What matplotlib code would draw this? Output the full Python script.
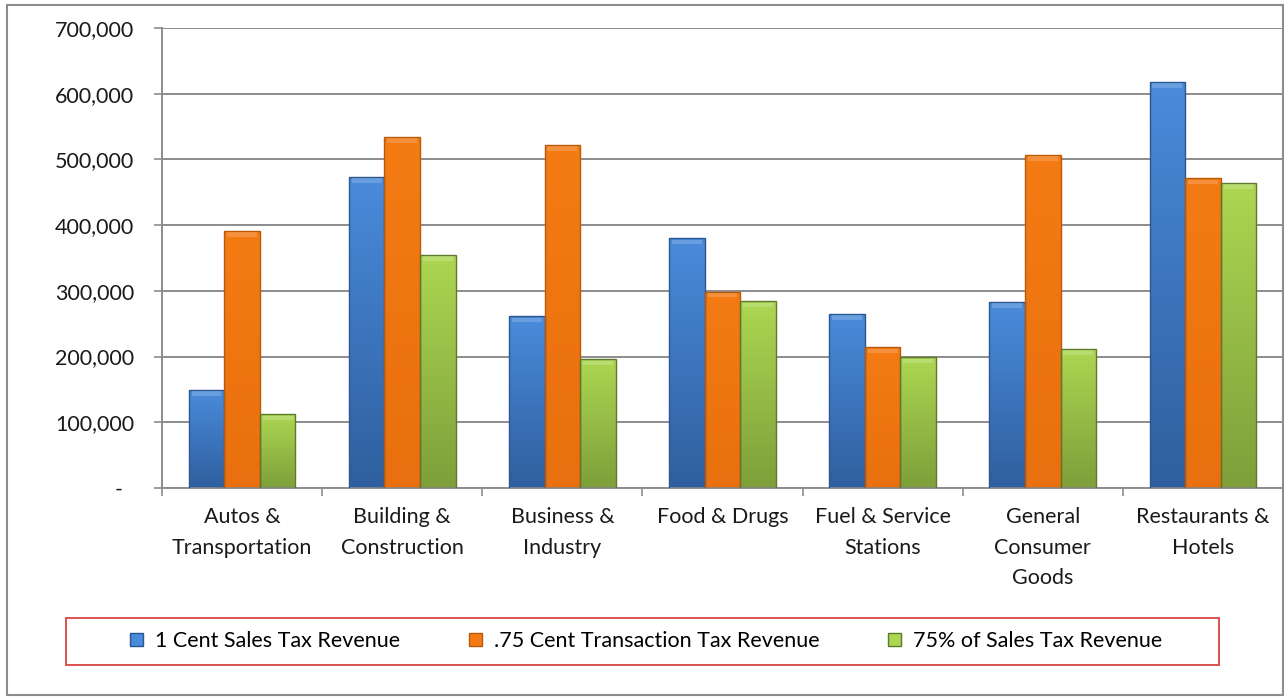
import numpy as np
import matplotlib.pyplot as plt
from matplotlib.patches import Rectangle, Patch
from matplotlib.colors import LinearSegmentedColormap
from matplotlib.ticker import FuncFormatter

plt.rcParams['font.family'] = ['Lato', 'DejaVu Sans']

categories = ["Autos &\nTransportation", "Building &\nConstruction", "Business &\nIndustry",
              "Food & Drugs", "Fuel & Service\nStations", "General\nConsumer\nGoods",
              "Restaurants &\nHotels"]
series_names = ["1 Cent Sales Tax Revenue", ".75 Cent Transaction Tax Revenue",
                "75% of Sales Tax Revenue"]
one_cent = [149000, 473000, 261000, 380000, 265000, 283000, 618000]
transaction = [391000, 534000, 522000, 299000, 214000, 507000, 471000]
pct75 = [112000, 355000, 196000, 284000, 199000, 212000, 464000]

# (top colour, bottom colour, edge colour)
styles = [("#4a8bdb", "#2f5f9e", "#2b5690"),
          ("#f47b14", "#ea6f0e", "#b9590a"),
          ("#acd752", "#7e9f3a", "#5d7a2b")]

fig = plt.figure(figsize=(12.84, 6.98), dpi=100)
ax = fig.add_axes([162 / 1284, 1 - 488 / 698, 1121 / 1284, 460 / 698])

x = np.arange(len(categories))
width = 0.222
grad = np.linspace(0, 1, 256).reshape(-1, 1)
for i, (vals, (top, bot, edge)) in enumerate(zip([one_cent, transaction, pct75], styles)):
    cmap = LinearSegmentedColormap.from_list("g%d" % i, [top, bot])
    bars = ax.bar(x + (i - 1) * width, vals, width, facecolor="none", edgecolor=edge,
                  linewidth=1.0, zorder=3)
    for b in bars:
        x0, w, h = b.get_x(), b.get_width(), b.get_height()
        im = ax.imshow(grad, cmap=cmap, extent=[x0, x0 + w, 0, h], aspect="auto",
                       origin="upper", zorder=2.5, interpolation="bilinear")
        im.set_clip_path(b)
        # light bevel strip along the top
        ax.add_patch(Rectangle((x0 + w * 0.08, h - 9000), w * 0.84, 7000,
                               facecolor="white", alpha=0.18, linewidth=0, zorder=3.2))

ax.set_xlim(-0.5, len(categories) - 0.5)
ax.set_ylim(0, 700000)
ax.set_yticks(np.arange(0, 700001, 100000))
ax.yaxis.set_major_formatter(FuncFormatter(lambda v, p: "-  " if v == 0 else f"{int(v):,}"))
ax.grid(axis="y", color="#8c8c8c", linewidth=1.4, zorder=1)
ax.set_axisbelow(True)

ax.set_xticks(x)
ax.set_xticklabels(categories, linespacing=1.65)
ax.set_xticks(np.arange(-0.5, len(categories)), minor=True)
ax.tick_params(axis="x", which="major", length=0, pad=14, labelsize=15.5, colors="#1a1a1a")
ax.tick_params(axis="x", which="minor", length=6, width=1.2, color="#8c8c8c", direction="out")
ax.tick_params(axis="y", length=6, width=1.2, color="#8c8c8c", pad=14, labelsize=15.5,
               labelcolor="#1a1a1a")

for s in ["top", "right"]:
    ax.spines[s].set_visible(False)
for s in ["left", "bottom"]:
    ax.spines[s].set_color("#8c8c8c")
    ax.spines[s].set_linewidth(1.4)

# outer chart border
fig.patches.append(Rectangle((7 / 1284, 1 - 695 / 698), 1276 / 1284, 690 / 698,
                             transform=fig.transFigure, fill=False, edgecolor="#8c8c8c",
                             linewidth=1.5))
# legend frame
fig.patches.append(Rectangle((66 / 1284, 1 - 665 / 698), 1153 / 1284, 47 / 698,
                             transform=fig.transFigure, fill=False, edgecolor="#d9534f",
                             linewidth=1.4))
handles = [Patch(facecolor=s[0], edgecolor=s[2]) for s in styles]
fig.legend(handles, series_names, loc="center", bbox_to_anchor=(646 / 1284, 1 - 641 / 698),
           ncol=3, frameon=False, fontsize=15.5, handlelength=0.6, handleheight=0.6,
           handletextpad=0.55, columnspacing=3.2)

fig.savefig("out.png", dpi=100)
